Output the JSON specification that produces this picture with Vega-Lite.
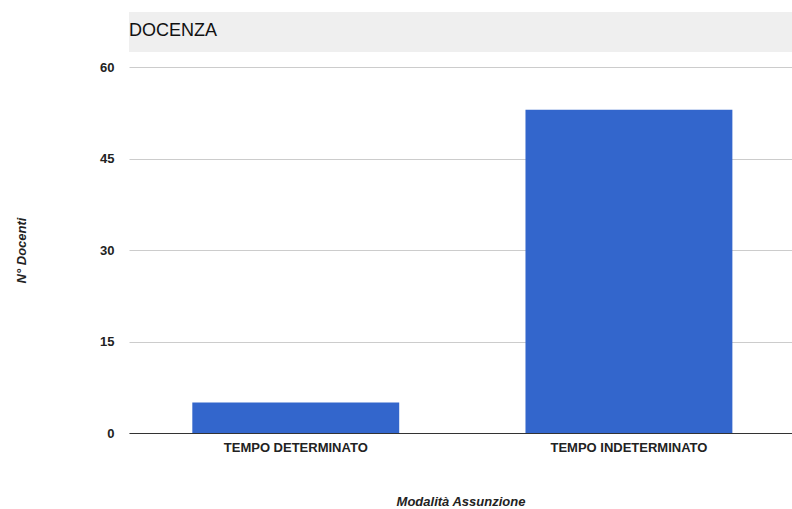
{
  "$schema": "https://vega.github.io/schema/vega-lite/v6.json",
  "width": 663,
  "height": 366,
  "autosize": {"type": "none"},
  "padding": {"left": 129, "top": 67, "right": 0, "bottom": 76},
  "background": "white",
  "title": {
    "text": "DOCENZA",
    "anchor": "start",
    "frame": "group",
    "font": "Liberation Sans",
    "fontSize": 18,
    "fontWeight": "normal",
    "color": "#111111",
    "baseline": "alphabetic",
    "offset": -42
  },
  "data": {
    "values": [
      {"modalita": "TEMPO DETERMINATO", "docenti": 5},
      {"modalita": "TEMPO INDETERMINATO", "docenti": 53}
    ]
  },
  "layer": [
    {
      "data": {"values": [{}]},
      "mark": {"type": "rect", "color": "#efefef", "clip": false},
      "encoding": {
        "y": {"datum": 62.46, "type": "quantitative"},
        "y2": {"datum": 69.0}
      }
    },
    {
      "mark": {"type": "bar", "color": "#3366cc"},
      "encoding": {
        "x": {
          "field": "modalita",
          "type": "nominal",
          "sort": null,
          "title": "Modalità Assunzione",
          "scale": {"paddingInner": 0.379, "paddingOuter": 0.1845, "align": 0.515},
          "axis": {
            "labelAngle": 0,
            "ticks": false,
            "domainColor": "#333333",
            "labelPadding": 8,
            "titlePadding": 41,
            "grid": false
          }
        },
        "y": {
          "field": "docenti",
          "type": "quantitative",
          "title": "N° Docenti",
          "scale": {"domain": [0, 60], "nice": false},
          "axis": {
            "values": [0, 15, 30, 45, 60],
            "domain": false,
            "ticks": false,
            "grid": true,
            "gridColor": "#cccccc",
            "gridOpacity": 1,
            "gridWidth": 1,
            "labelPadding": 15,
            "titlePadding": 71
          }
        }
      }
    }
  ],
  "config": {
    "view": {"stroke": null},
    "axis": {
      "labelFont": "Liberation Sans",
      "labelFontSize": 13,
      "labelFontWeight": "bold",
      "labelColor": "#222222",
      "titleFont": "Liberation Sans",
      "titleFontSize": 13,
      "titleFontWeight": "bold",
      "titleFontStyle": "italic",
      "titleColor": "#222222"
    }
  }
}
